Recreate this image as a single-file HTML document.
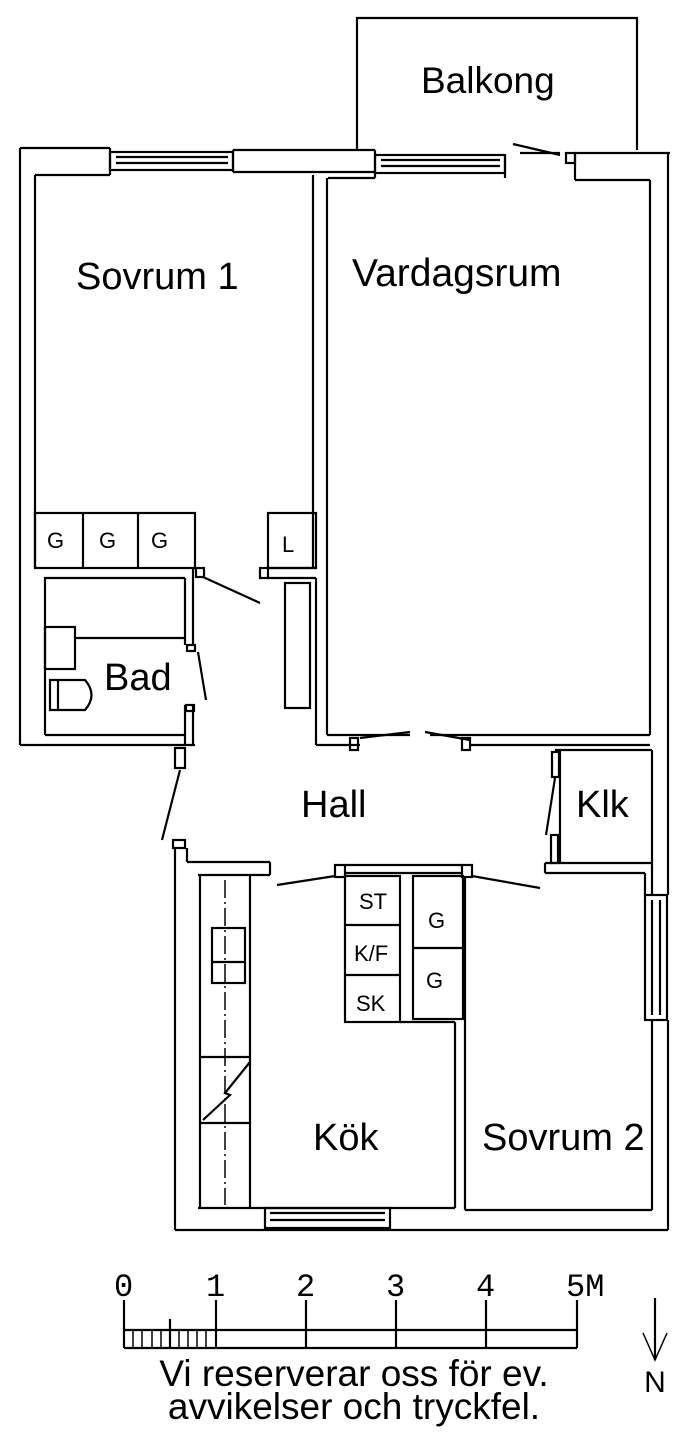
<!DOCTYPE html>
<html><head><meta charset="utf-8"><style>
html,body{margin:0;padding:0;background:#fff}
svg{display:block}
text{font-family:"Liberation Sans",sans-serif;fill:#000}
</style></head><body>
<svg width="700" height="1450" viewBox="0 0 700 1450" xmlns="http://www.w3.org/2000/svg">
<g fill="none" stroke="#000" stroke-width="2.2">
<polyline points="357,150 357,18 637,18 637,150"/>
<line x1="20" y1="148" x2="110" y2="148"/>
<line x1="233" y1="150" x2="375" y2="150"/>
<line x1="575" y1="153" x2="670" y2="153"/>
<line x1="35" y1="175" x2="110" y2="175"/>
<line x1="233" y1="172" x2="375" y2="172"/>
<line x1="375" y1="178" x2="375" y2="150"/>
<line x1="233" y1="150" x2="233" y2="172"/>
<line x1="110" y1="148" x2="110" y2="175"/>
<line x1="328" y1="178" x2="375" y2="178"/>
<line x1="505" y1="178" x2="505" y2="155"/>
<line x1="575" y1="153" x2="575" y2="180"/>
<line x1="575" y1="180" x2="650" y2="180"/>
<rect x="110" y="152" width="123" height="18"/>
<line x1="116" y1="157" x2="228" y2="157"/><line x1="116" y1="163" x2="228" y2="163"/>
<rect x="375" y="155" width="130" height="18"/>
<line x1="381" y1="160" x2="500" y2="160"/><line x1="381" y1="166" x2="500" y2="166"/>
<line x1="513" y1="144" x2="560" y2="155"/><line x1="520" y1="153" x2="560" y2="153"/>
<rect x="566" y="153" width="9" height="10"/>
<line x1="20" y1="148" x2="20" y2="745"/>
<line x1="35" y1="175" x2="35" y2="568"/>
<line x1="20" y1="745" x2="195" y2="745"/>
<line x1="45" y1="735" x2="185" y2="735"/>
<line x1="313" y1="175" x2="313" y2="568"/>
<line x1="327" y1="178" x2="327" y2="735"/>
<line x1="316" y1="578" x2="316" y2="745"/>
<rect x="35" y="513" width="160" height="55"/>
<line x1="83" y1="513" x2="83" y2="568"/><line x1="138" y1="513" x2="138" y2="568"/>
<rect x="268" y="513" width="48" height="55"/>
<line x1="268" y1="568" x2="316" y2="568"/>
<rect x="260" y="568" width="8" height="10"/>
<line x1="268" y1="578" x2="316" y2="578"/>
<rect x="285" y="583" width="25" height="125"/>
<polyline points="185,578 45,578 45,735"/>
<line x1="185" y1="578" x2="185" y2="645"/>
<line x1="193" y1="568" x2="193" y2="645"/>
<rect x="196" y="568" width="8" height="9"/>
<line x1="203" y1="577" x2="260" y2="603"/>
<line x1="75" y1="638" x2="185" y2="638"/>
<rect x="45" y="627" width="30" height="42"/>
<path d="M50,680 L85,680 Q98,695 85,710 L50,710 Z"/>
<line x1="58" y1="680" x2="58" y2="710"/>
<rect x="187" y="645" width="8" height="6"/>
<line x1="198" y1="652" x2="206" y2="700"/>
<line x1="185" y1="705" x2="185" y2="745"/>
<line x1="193" y1="705" x2="193" y2="745"/>
<rect x="186" y="705" width="8" height="6"/>
<rect x="175" y="748" width="10" height="20"/>
<line x1="180" y1="770" x2="162" y2="840"/>
<rect x="173" y="840" width="12" height="8"/>
<line x1="175" y1="848" x2="175" y2="1230"/>
<line x1="187" y1="848" x2="187" y2="862"/>
<line x1="187" y1="862" x2="270" y2="862"/>
<line x1="270" y1="862" x2="270" y2="875"/>
<line x1="198" y1="875" x2="270" y2="875"/>
<line x1="327" y1="735" x2="410" y2="735"/>
<line x1="430" y1="735" x2="650" y2="735"/>
<line x1="316" y1="745" x2="360" y2="745"/>
<line x1="360" y1="738" x2="410" y2="732"/>
<line x1="425" y1="732" x2="470" y2="740"/>
<line x1="470" y1="745" x2="650" y2="745"/>
<rect x="350" y="738" width="8" height="12"/>
<rect x="462" y="738" width="8" height="12"/>
<line x1="650" y1="180" x2="650" y2="735"/>
<line x1="668" y1="153" x2="668" y2="895"/>
<line x1="652" y1="750" x2="652" y2="895"/>
<polyline points="555,750 652,750"/>
<line x1="560" y1="750" x2="560" y2="862"/>
<rect x="552" y="752" width="7" height="25"/>
<line x1="555" y1="778" x2="546" y2="835"/>
<rect x="551" y="835" width="7" height="28"/>
<line x1="545" y1="863" x2="652" y2="863"/>
<line x1="545" y1="873" x2="645" y2="873"/>
<line x1="545" y1="863" x2="545" y2="873"/>
<line x1="645" y1="873" x2="645" y2="895"/>
<rect x="645" y="895" width="22" height="125"/>
<line x1="652" y1="900" x2="652" y2="1015"/><line x1="660" y1="900" x2="660" y2="1015"/>
<line x1="668" y1="1020" x2="668" y2="1230"/>
<line x1="652" y1="1020" x2="652" y2="1210"/>
<line x1="345" y1="873" x2="462" y2="873"/>
<rect x="335" y="865" width="10" height="12"/>
<rect x="462" y="865" width="10" height="12"/>
<line x1="345" y1="865" x2="462" y2="865"/>
<line x1="277" y1="885" x2="335" y2="876"/>
<line x1="472" y1="876" x2="540" y2="888"/>
<rect x="345" y="876" width="55" height="146"/>
<line x1="345" y1="925" x2="400" y2="925"/><line x1="345" y1="975" x2="400" y2="975"/>
<rect x="413" y="876" width="50" height="143"/>
<line x1="413" y1="948" x2="463" y2="948"/>
<line x1="400" y1="1022" x2="455" y2="1022"/>
<line x1="455" y1="1022" x2="455" y2="1208"/>
<line x1="465" y1="876" x2="465" y2="1210"/>
<line x1="465" y1="1210" x2="652" y2="1210"/>
<line x1="200" y1="875" x2="200" y2="1208"/>
<line x1="250" y1="875" x2="250" y2="1208"/>
<line x1="225" y1="880" x2="225" y2="1205" stroke-dasharray="18,4,2,4" stroke-width="1.5"/>
<rect x="212" y="928" width="33" height="55"/>
<line x1="212" y1="962" x2="245" y2="962"/>
<line x1="200" y1="1057" x2="250" y2="1057"/>
<line x1="200" y1="1123" x2="250" y2="1123"/>
<polyline points="250,1062 225,1093 230,1095 203,1120"/>
<line x1="198" y1="1208" x2="455" y2="1208"/>
<rect x="265" y="1208" width="125" height="20"/>
<line x1="270" y1="1213" x2="385" y2="1213"/><line x1="270" y1="1220" x2="385" y2="1220"/>
<line x1="175" y1="1230" x2="668" y2="1230"/>
<!-- scale bar -->
<line x1="124" y1="1300" x2="124" y2="1348"/>
<line x1="216" y1="1300" x2="216" y2="1348"/>
<line x1="306" y1="1300" x2="306" y2="1348"/>
<line x1="396" y1="1300" x2="396" y2="1348"/>
<line x1="486" y1="1300" x2="486" y2="1348"/>
<line x1="577" y1="1300" x2="577" y2="1348"/>
<line x1="124" y1="1330" x2="577" y2="1330"/>
<line x1="124" y1="1348" x2="577" y2="1348"/>
<line x1="170" y1="1319" x2="170" y2="1348"/>
<!-- N arrow -->
<line x1="655" y1="1298" x2="655" y2="1360"/>
<polyline points="643,1333 655,1360 667,1333" stroke-width="1.5"/>
</g>
<g stroke="#000" stroke-width="1.5">
<line x1="133" y1="1330" x2="133" y2="1348"/><line x1="142" y1="1330" x2="142" y2="1348"/>
<line x1="152" y1="1330" x2="152" y2="1348"/><line x1="161" y1="1330" x2="161" y2="1348"/>
<line x1="179" y1="1330" x2="179" y2="1348"/><line x1="188" y1="1330" x2="188" y2="1348"/>
<line x1="197" y1="1330" x2="197" y2="1348"/><line x1="206" y1="1330" x2="206" y2="1348"/>
</g>
<g font-size="38">
<text x="421" y="93" font-size="37">Balkong</text>
<text x="76" y="289">Sovrum 1</text>
<text x="352" y="286" font-size="39">Vardagsrum</text>
<text x="104" y="690">Bad</text>
<text x="301" y="817">Hall</text>
<text x="576" y="817">Klk</text>
<text x="313" y="1150">Kök</text>
<text x="482" y="1150">Sovrum 2</text>
</g>
<g font-size="22">
<text x="47" y="548">G</text><text x="99" y="548">G</text><text x="151" y="548">G</text>
<text x="282" y="552">L</text>
<text x="359" y="909">ST</text>
<text x="354" y="961">K/F</text>
<text x="356" y="1011">SK</text>
<text x="428" y="928">G</text>
<text x="426" y="988">G</text>
</g>
<g font-size="32">
<text x="114" y="1296" style="font-family:'Liberation Mono',monospace">0</text>
<text x="206" y="1296" style="font-family:'Liberation Mono',monospace">1</text>
<text x="296" y="1296" style="font-family:'Liberation Mono',monospace">2</text>
<text x="386" y="1296" style="font-family:'Liberation Mono',monospace">3</text>
<text x="476" y="1296" style="font-family:'Liberation Mono',monospace">4</text>
<text x="566" y="1296" style="font-family:'Liberation Mono',monospace">5M</text>
</g>
<g font-size="37" text-anchor="middle">
<text x="354" y="1386">Vi reserverar oss för ev.</text>
<text x="354" y="1419">avvikelser och tryckfel.</text>
<text x="655" y="1392" font-size="30">N</text>
</g>
</svg>
</body></html>
